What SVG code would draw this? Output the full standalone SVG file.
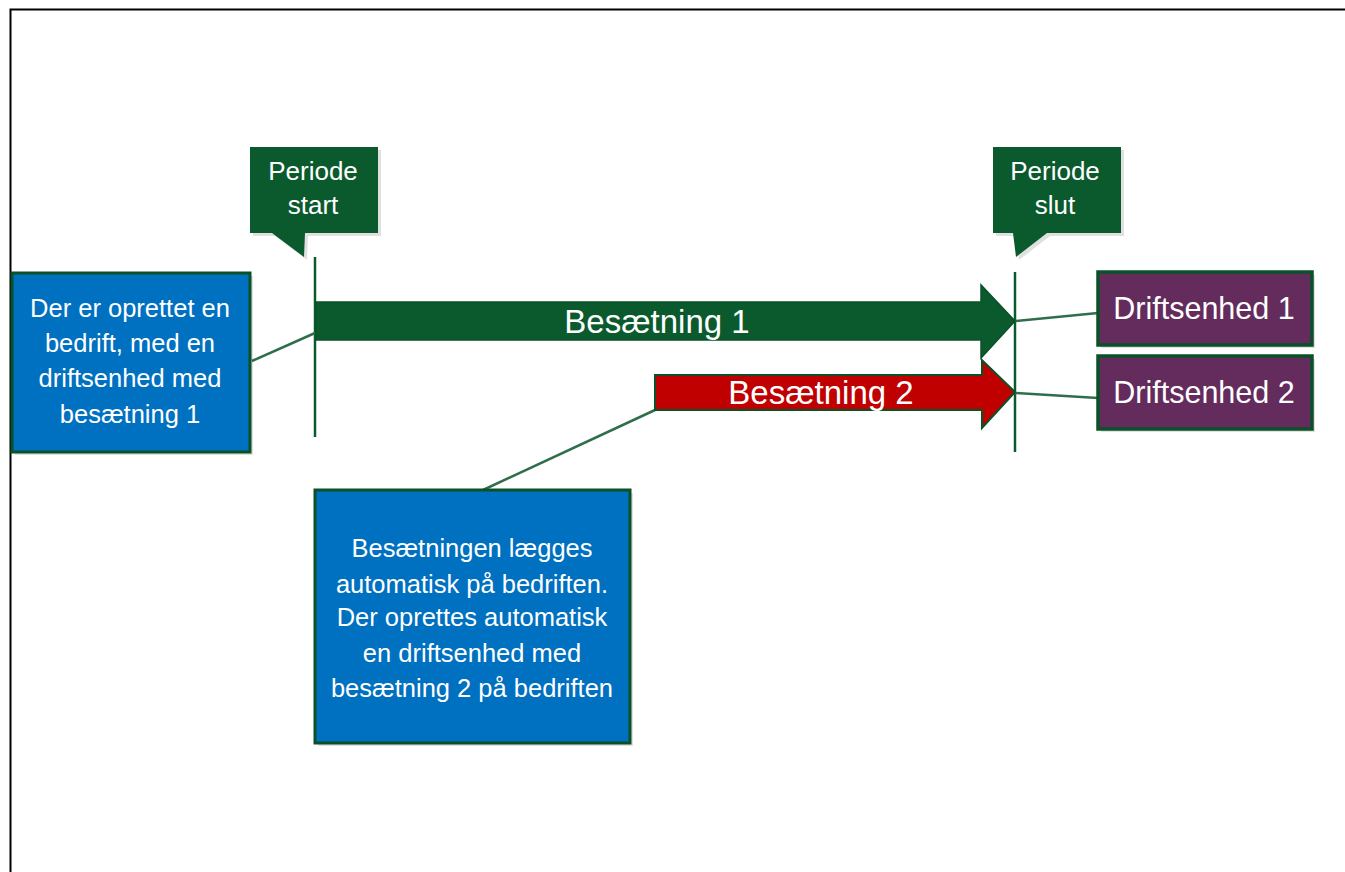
<svg xmlns="http://www.w3.org/2000/svg" width="1345" height="872" viewBox="0 0 1345 872">
<style>
  .frame{fill:none;stroke:#000;stroke-width:2}
  .callout{fill:#0B5A2E}
  .shadow{fill:#000;opacity:0.12}
  .vline{stroke:#0B5A2E;stroke-width:2.5;fill:none}
  .conn{stroke:#2F6E4A;stroke-width:2.5;fill:none}
  .blue{fill:#0070C0;stroke:#0A5128;stroke-width:3}
  .purple{fill:#632C5C;stroke:#0A5128;stroke-width:3.5}
  .t{font-family:"Liberation Sans",Arial,sans-serif;fill:#fff;text-anchor:middle}
  .s25{font-size:25.5px}
  .s26{font-size:26px}
  .s33{font-size:33px}
  .s30{font-size:30.5px}
</style>
<rect width="1345" height="872" fill="#fff"/>
<path class="frame" d="M10.5,872 V9.5 H1345"/>

<g id="callout-start">
  <path class="shadow" d="M253,150 H381 V236 H308 L307,260 L275,236 H253 Z"/>
  <path class="callout" d="M250,147 H378 V233 H305 L304,257 L272,233 H250 Z"/>
  <text class="t s26" x="313" y="180">Periode</text>
  <text class="t s26" x="313" y="214">start</text>
</g>
<g id="callout-end">
  <path class="shadow" d="M996,150 H1124 V236 H1050 L1019,260 L1016,236 H996 Z"/>
  <path class="callout" d="M993,147 H1121 V233 H1047 L1016,257 L1013,233 H993 Z"/>
  <text class="t s26" x="1055" y="180">Periode</text>
  <text class="t s26" x="1055" y="214">slut</text>
</g>

<g id="timeline-start"><line class="vline" x1="315" y1="257" x2="315" y2="437"/></g>
<g id="timeline-end"><line class="vline" x1="1015" y1="272" x2="1015" y2="452"/></g>

<g id="connectors">
  <line class="conn" x1="252" y1="361" x2="315" y2="333"/>
  <line class="conn" x1="483" y1="490" x2="655" y2="410"/>
  <line class="conn" x1="1015" y1="321" x2="1098" y2="313"/>
  <line class="conn" x1="1015" y1="393" x2="1098" y2="398"/>
</g>

<g id="arrow-besaetning1">
  <path d="M316,302 H981 V285 L1015,321 L981,358 V340 H316 Z" fill="#0B5A2E" stroke="#0A5128" stroke-width="1.5"/>
  <text class="t s33" x="657" y="333">Besætning 1</text>
</g>
<g id="arrow-besaetning2">
  <path d="M655,375 H982 V360 L1015,392 L982,428 V410 H655 Z" fill="#C00000" stroke="#0A5128" stroke-width="2"/>
  <text class="t s33" x="821" y="404">Besætning 2</text>
</g>

<g id="note1">
  <rect x="15" y="276" width="238" height="179" class="shadow"/>
  <rect x="12" y="273" width="238" height="179" class="blue"/>
  <text class="t s25" x="130" y="317">Der er oprettet  en</text>
  <text class="t s25" x="130" y="352">bedrift, med en</text>
  <text class="t s25" x="130" y="387">driftsenhed med</text>
  <text class="t s25" x="130" y="423">besætning 1</text>
</g>

<g id="note2">
  <rect x="318" y="493" width="315" height="253" class="shadow"/>
  <rect x="315" y="490" width="315" height="253" class="blue"/>
  <text class="t s25" x="472" y="557">Besætningen  lægges</text>
  <text class="t s25" x="472" y="593">automatisk på bedriften.</text>
  <text class="t s25" x="472" y="626">Der oprettes automatisk</text>
  <text class="t s25" x="472" y="662">en driftsenhed  med</text>
  <text class="t s25" x="472" y="697">besætning 2  på bedriften</text>
</g>

<g id="driftsenhed1">
  <rect x="1101" y="275" width="214" height="73" class="shadow"/>
  <rect x="1098" y="272" width="214" height="73" class="purple"/>
  <text class="t s30" x="1204" y="319">Driftsenhed 1</text>
</g>
<g id="driftsenhed2">
  <rect x="1101" y="359" width="214" height="73" class="shadow"/>
  <rect x="1098" y="356" width="214" height="73" class="purple"/>
  <text class="t s30" x="1204" y="403">Driftsenhed 2</text>
</g>
</svg>
